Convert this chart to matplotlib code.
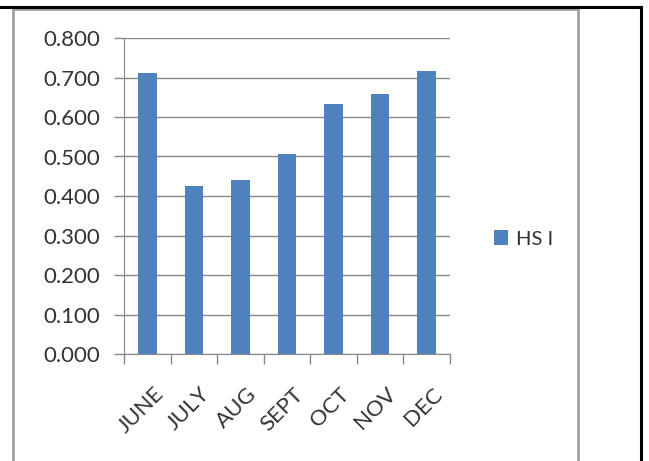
import matplotlib.pyplot as plt
import matplotlib.transforms as mtransforms
from matplotlib.patches import Rectangle
from matplotlib.lines import Line2D

months = ["JUNE", "JULY", "AUG", "SEPT", "OCT", "NOV", "DEC"]
hsi = [0.711, 0.425, 0.440, 0.506, 0.632, 0.657, 0.716]
yticks = [0.0, 0.1, 0.2, 0.3, 0.4, 0.5, 0.6, 0.7, 0.8]

W, H = 649, 461
fig = plt.figure(figsize=(W / 100, H / 100), dpi=100)
plt.rcParams["font.family"] = ["Lato", "DejaVu Sans"]

def px(x, y):
    # pixel position (from top-left) to figure fraction
    return x / W, 1 - y / H

# table border behind the chart object
fig.add_artist(Line2D([0, 641 / W], [1 - 7 / H] * 2, color="black", lw=2.2))
fig.add_artist(Line2D([641 / W] * 2, [0, 1 - 7 / H], color="black", lw=2.2))

# chart frame
x0, y0 = px(13, 9)
x1, _ = px(578, 0)
fig.add_artist(Rectangle((x0, -0.05), x1 - x0, y0 + 0.05, facecolor="white",
                         edgecolor="#a0a0a0", lw=2.0, zorder=1))

left, top = px(124, 38)
right, bottom = px(450, 354)
ax = fig.add_axes([left, bottom, right - left, top - bottom], zorder=2)
ax.patch.set_alpha(0)

xs = list(range(len(months)))
ax.bar(xs, hsi, width=0.4, color="#4F81BD", zorder=3, label="HS I")

ax.set_xlim(-0.5, len(months) - 0.5)
ax.set_ylim(0, 0.8)
ax.set_yticks(yticks)
ax.set_yticklabels([f"{v:.3f}" for v in yticks], fontsize=16, color="#333333")
ax.yaxis.grid(True, color="#888888", lw=1)
ax.set_axisbelow(True)

for s in ["top", "right"]:
    ax.spines[s].set_visible(False)
ax.spines["left"].set_color("#888888")
ax.spines["bottom"].set_color("#888888")
ax.tick_params(axis="y", length=7, width=1, color="#888888", pad=10)
ax.set_xticks([i - 0.5 for i in range(len(months) + 1)])
ax.set_xticklabels([])
ax.tick_params(axis="x", length=7, width=1, color="#888888")

offset = mtransforms.ScaledTranslation(6 / 100, -30 / 100, fig.dpi_scale_trans)
trans = mtransforms.blended_transform_factory(ax.transData, ax.transAxes) + offset
for i, m in enumerate(months):
    ax.text(i, 0, m, transform=trans, rotation=45, ha="right", va="top",
            rotation_mode="anchor", fontsize=16, color="#333333")

fig.legend(loc="center left", bbox_to_anchor=px(476, 239), frameon=False,
           fontsize=14.5, handlelength=0.7, handleheight=0.7, handletextpad=0.4,
           labelcolor="#333333")

fig.savefig("out.png", dpi=100)
